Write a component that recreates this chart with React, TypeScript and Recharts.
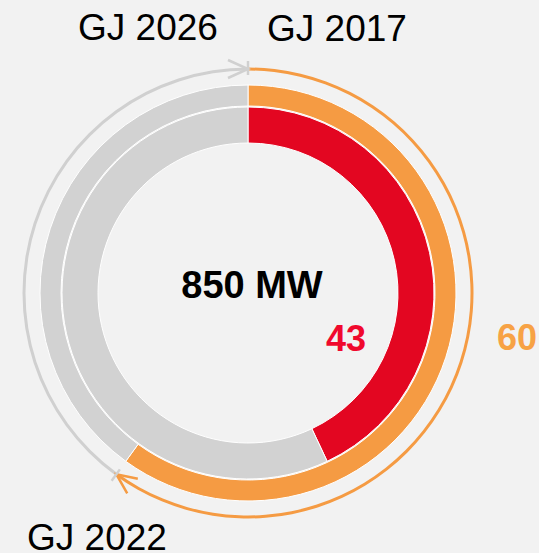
import { Cell, Pie, PieChart } from 'recharts'

// share of the 850 MW target, inner ring = built, outer ring = planned
const innerShare = [43, 57]
const outerShare = [60, 40]
const timelineLabels = ['GJ 2017', 'GJ 2022', 'GJ 2026']
const centerLabel = '850 MW'

const RED = '#e30621'
const ORANGE = '#f59b43'
const GRAY = '#d2d2d2'
const ARC_GRAY = '#d0d0d0'
const BG = '#f2f2f2'
const FONT = '"Liberation Sans", Arial, Helvetica, sans-serif'

const CX = 248
const CY = 293

const innerData = innerShare.map((value, i) => ({ name: i === 0 ? 'done' : 'rest', value }))
const outerData = outerShare.map((value, i) => ({ name: i === 0 ? 'plan' : 'rest', value }))

function polar(cx: number, cy: number, r: number, angle: number) {
  const rad = (-angle * Math.PI) / 180
  return { x: cx + Math.cos(rad) * r, y: cy + Math.sin(rad) * r }
}

// draws the arrow head at the end of each thin arc and a tick where each arc starts
function renderArrow(props: any) {
  const { cx, cy, innerRadius, outerRadius, startAngle, endAngle, index } = props
  const r = (innerRadius + outerRadius) / 2
  const tip = polar(cx, cy, r, endAngle)
  const a = (endAngle * Math.PI) / 180
  const dir = { x: Math.sin(a), y: Math.cos(a) }
  const nor = { x: Math.cos(a), y: -Math.sin(a) }
  const len = 20
  const spread = 9
  const p1 = { x: tip.x - dir.x * len + nor.x * spread, y: tip.y - dir.y * len + nor.y * spread }
  const p2 = { x: tip.x - dir.x * len - nor.x * spread, y: tip.y - dir.y * len - nor.y * spread }
  const color = index === 0 ? ORANGE : ARC_GRAY
  const t1 = polar(cx, cy, r - 6, startAngle)
  const t2 = polar(cx, cy, r + 8, startAngle)
  return (
    <g key={`arrow-${index}`}>
      <polyline
        points={`${p1.x},${p1.y} ${tip.x},${tip.y} ${p2.x},${p2.y}`}
        fill="none"
        stroke={color}
        strokeWidth={2.5}
      />
      <line x1={t1.x} y1={t1.y} x2={t2.x} y2={t2.y} stroke={ARC_GRAY} strokeWidth={2.5} />
    </g>
  )
}

export default function App() {
  return (
    <div
      style={{
        position: 'absolute',
        left: 0,
        top: 0,
        width: 539,
        height: 553,
        background: BG,
        overflow: 'hidden',
      }}
    >
      <PieChart width={539} height={553} margin={{ top: 0, right: 0, bottom: 0, left: 0 }}>
        <Pie
          data={innerData}
          dataKey="value"
          cx={CX}
          cy={CY}
          innerRadius={150}
          outerRadius={186}
          startAngle={90}
          endAngle={-270}
          stroke="#ffffff"
          strokeWidth={1}
          isAnimationActive={false}
        >
          <Cell fill={RED} />
          <Cell fill={GRAY} />
        </Pie>
        <Pie
          data={outerData}
          dataKey="value"
          cx={CX}
          cy={CY}
          innerRadius={187}
          outerRadius={208}
          startAngle={90}
          endAngle={-270}
          stroke="#ffffff"
          strokeWidth={1}
          isAnimationActive={false}
        >
          <Cell fill={ORANGE} />
          <Cell fill={GRAY} />
        </Pie>
        <Pie
          data={outerData}
          dataKey="value"
          cx={CX}
          cy={CY}
          innerRadius={222.5}
          outerRadius={225.5}
          startAngle={90}
          endAngle={-270}
          stroke="none"
          label={renderArrow}
          labelLine={false}
          isAnimationActive={false}
        >
          <Cell fill={ORANGE} />
          <Cell fill={ARC_GRAY} />
        </Pie>
      </PieChart>
      <svg
        width={539}
        height={553}
        style={{ position: 'absolute', left: 0, top: 0, pointerEvents: 'none' }}
        fontFamily={FONT}
      >
        <text x={267} y={41} fontSize={37} fill="#000">
          {timelineLabels[0]}
        </text>
        <text x={27} y={550} fontSize={37} fill="#000">
          {timelineLabels[1]}
        </text>
        <text x={78} y={40} fontSize={37} fill="#000">
          {timelineLabels[2]}
        </text>
        <text x={252} y={298} fontSize={38} fontWeight="bold" textAnchor="middle" fill="#000">
          {centerLabel}
        </text>
        <text x={346} y={351} fontSize={36} fontWeight="bold" textAnchor="middle" fill="#f0092d">
          {innerShare[0]}
        </text>
        <text x={517} y={350} fontSize={36} fontWeight="bold" textAnchor="middle" fill="#f7a245">
          {outerShare[0]}
        </text>
      </svg>
    </div>
  )
}
